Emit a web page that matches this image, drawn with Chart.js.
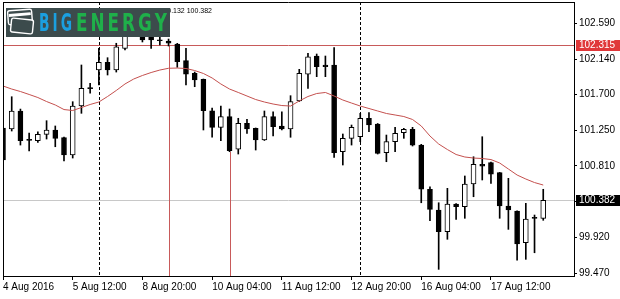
<!DOCTYPE html>
<html>
<head>
<meta charset="utf-8">
<script src="https://cdn.jsdelivr.net/npm/chart.js@4/dist/chart.umd.min.js"></script>
<style>
  html, body { margin: 0; padding: 0; background: #fff; }
  #wrap { width: 620px; height: 299px; position: relative; }
</style>
</head>
<body>
<div id="wrap"><canvas id="chart" width="620" height="299"></canvas></div>
<script>
/* USDJPY H4 candles with moving average */
const opens = [101.284, 101.271, 101.496, 101.134, 101.125, 101.205, 101.259, 101.163, 100.947, 101.558,
  101.779, 102.007, 102.103, 102.007, 102.278, 102.482, 102.423, 102.416, 102.373, 102.369,
  102.332, 102.124, 101.966, 101.891, 101.499, 101.292, 101.425, 101.021, 101.342, 101.280,
  101.134, 101.425, 101.309, 101.271, 101.621, 101.954, 102.182, 102.070, 102.070, 100.988,
  101.155, 101.175, 101.405, 101.333, 100.975, 101.113, 101.225, 101.267, 101.071, 100.519,
  100.260, 99.989, 100.335, 100.301, 100.585, 100.831, 100.851, 100.726, 100.310, 100.248,
  99.852, 100.157, 100.157];
const highs = [101.321, 101.674, 101.520, 101.221, 101.237, 101.375, 101.309, 101.171, 101.612, 102.070,
  101.841, 102.278, 102.161, 102.341, 102.532, 102.581, 102.469, 102.444, 102.423, 102.394,
  102.340, 102.278, 101.982, 101.895, 101.533, 101.558, 101.521, 101.405, 101.392, 101.284,
  101.496, 101.487, 101.487, 101.687, 102.016, 102.216, 102.207, 102.182, 102.286, 101.209,
  101.321, 101.467, 101.475, 101.340, 101.196, 101.292, 101.280, 101.292, 101.080, 100.551,
  100.351, 100.531, 100.340, 100.685, 100.925, 101.175, 100.860, 100.730, 100.656, 100.250,
  100.344, 100.198, 100.519];
const lows = [100.859, 101.246, 101.071, 100.999, 101.105, 101.146, 101.050, 100.872, 100.909, 101.467,
  101.717, 101.820, 101.945, 101.982, 102.257, 102.432, 102.357, 102.278, 102.319, 102.307,
  102.041, 101.820, 101.799, 101.259, 101.168, 101.125, 100.988, 100.959, 101.217, 101.009,
  101.128, 101.184, 101.259, 101.168, 101.615, 101.779, 101.924, 101.924, 100.918, 100.822,
  101.071, 101.113, 101.237, 100.959, 100.863, 100.988, 101.155, 101.059, 100.351, 100.127,
  99.520, 99.895, 100.144, 100.157, 100.426, 100.635, 100.593, 100.157, 100.019, 99.636,
  99.645, 99.727, 100.132];
const closes = [100.884, 101.496, 101.125, 101.130, 101.205, 101.259, 101.155, 100.947, 101.558, 101.779,
  101.775, 102.103, 102.007, 102.298, 102.482, 102.444, 102.382, 102.382, 102.373, 102.341,
  102.111, 101.954, 101.883, 101.499, 101.292, 101.425, 101.000, 101.342, 101.271, 101.134,
  101.425, 101.300, 101.271, 101.612, 101.966, 102.173, 102.049, 102.049, 100.975, 101.155,
  101.292, 101.405, 101.321, 100.968, 101.113, 101.217, 101.267, 101.071, 100.519, 100.269,
  99.989, 100.335, 100.301, 100.585, 100.831, 100.809, 100.709, 100.310, 100.260, 99.836,
  100.148, 100.157, 100.382];
const maValues = [101.808, 101.770, 101.739, 101.702, 101.664, 101.614, 101.571, 101.514, 101.502, 101.539,
  101.577, 101.608, 101.677, 101.752, 101.833, 101.895, 101.939, 101.976, 102.007, 102.029,
  102.032, 102.026, 102.001, 101.964, 101.908, 101.833, 101.770, 101.727, 101.683, 101.639,
  101.608, 101.583, 101.564, 101.558, 101.621, 101.677, 101.714, 101.727, 101.683, 101.633,
  101.595, 101.558, 101.527, 101.496, 101.465, 101.446, 101.427, 101.390, 101.309, 101.184,
  101.084, 101.015, 100.953, 100.922, 100.909, 100.903, 100.890, 100.847, 100.772, 100.697,
  100.647, 100.603, 100.572];

const timeLabels = ['4 Aug 2016', '5 Aug 12:00', '8 Aug 20:00', '10 Aug 04:00',
  '11 Aug 12:00', '12 Aug 20:00', '16 Aug 04:00', '17 Aug 12:00'];
const timeTickIdx = [0, 8, 16, 24, 32, 40, 48, 56];
const priceTicks = [102.590, 102.140, 101.700, 101.250, 100.810, 100.370, 99.920, 99.470];

const levelPrice = 102.315;
const bidPrice = 100.382;
const separatorIdx = [11, 41];
const markerIdx = [19, 26];
const markerTop = [102.315, 100.988];
const caption = 'USDJPY,H4  100.157 100.519 100.132 100.382';

const FONT = '"Liberation Sans", Arial, sans-serif';

function line(ctx, x1, y1, x2, y2) {
  ctx.beginPath(); ctx.moveTo(x1, y1); ctx.lineTo(x2, y2); ctx.stroke();
}

// draws a word letter by letter, squeezed to fit [x0, x0 + wd]
function fitWord(ctx, word, color, x0, wd, gap) {
  const widths = [...word].map(ch => ctx.measureText(ch).width);
  const sx = (wd - gap * (word.length - 1)) / widths.reduce((s, w) => s + w, 0);
  let x = x0;
  ctx.fillStyle = color;
  [...word].forEach((ch, k) => {
    ctx.save();
    ctx.translate(x, 31);
    ctx.scale(sx, 1);
    ctx.fillText(ch, 0, 0);
    ctx.restore();
    x += widths[k] * sx + gap;
  });
}

function drawLogo(ctx) {
  ctx.save();
  ctx.fillStyle = '#3c4b4c';
  ctx.fillRect(6, 8, 164, 29);
  // card icon
  ctx.strokeStyle = '#fff';
  ctx.lineWidth = 1.4;
  ctx.save();
  ctx.translate(20, 17); ctx.rotate(-0.08);
  ctx.fillStyle = '#3c4b4c';
  ctx.beginPath(); ctx.roundRect(-12, -7, 24, 14, 2); ctx.fill(); ctx.stroke();
  ctx.fillStyle = '#fff'; ctx.fillRect(-11, -4, 22, 3);
  ctx.restore();
  ctx.save();
  ctx.translate(22, 26); ctx.rotate(0.1);
  ctx.fillStyle = '#3c4b4c';
  ctx.beginPath(); ctx.roundRect(-11, -7, 22, 14, 2); ctx.fill(); ctx.stroke();
  ctx.restore();
  ctx.font = 'bold 24px "DejaVu Sans", sans-serif';
  ctx.textBaseline = 'alphabetic';
  ctx.textAlign = 'left';
  fitWord(ctx, 'BIG', '#1b9fdf', 39, 33, 3);
  fitWord(ctx, 'ENERGY', '#1fb04a', 76, 91, 3);
  ctx.restore();
}

const overlays = {
  id: 'overlays',
  beforeDatasetsDraw(chart) {
    const { ctx, chartArea: a, scales: { x, y } } = chart;
    ctx.save();
    ctx.lineWidth = 1;
    const yb = Math.round(y.getPixelForValue(bidPrice)) + 0.5;
    ctx.strokeStyle = '#c8c8c8';
    line(ctx, a.left, yb, a.right, yb);
    const yl = Math.round(y.getPixelForValue(levelPrice)) + 0.5;
    ctx.strokeStyle = '#c85a5a';
    line(ctx, a.left, yl, a.right, yl);
    markerIdx.forEach((i, k) => {
      const px = Math.round(x.getPixelForValue(i)) + 0.5;
      line(ctx, px, y.getPixelForValue(markerTop[k]), px, a.bottom);
    });
    ctx.strokeStyle = '#000';
    ctx.setLineDash([3, 2]);
    separatorIdx.forEach(i => {
      const px = Math.round(x.getPixelForValue(i)) + 0.5;
      line(ctx, px, a.top, px, a.bottom);
    });
    ctx.restore();
  },
  afterDraw(chart) {
    const { ctx, chartArea: a, scales: { y } } = chart;
    ctx.save();
    ctx.strokeStyle = '#000';
    ctx.lineWidth = 1;
    line(ctx, a.left + 0.5, a.top, a.left + 0.5, a.bottom);
    line(ctx, a.left, a.top + 0.5, a.right, a.top + 0.5);

    ctx.font = '10px ' + FONT;
    ctx.textBaseline = 'middle';
    ctx.textAlign = 'left';
    [[levelPrice, '#e0383a'], [bidPrice, '#000']].forEach(([p, c]) => {
      const py = Math.round(y.getPixelForValue(p));
      ctx.fillStyle = c;
      ctx.fillRect(a.right + 2, py - 5, 44, 11);
      ctx.fillStyle = '#fff';
      ctx.fillText(p.toFixed(3), a.right + 5, py + 0.5);
    });

    ctx.font = '7px ' + FONT;
    ctx.fillStyle = '#000';
    ctx.textAlign = 'right';
    ctx.textBaseline = 'alphabetic';
    ctx.fillText(caption, 212, 13);

    drawLogo(ctx);
    ctx.restore();
  }
};

const idx = opens.map((_, i) => i);

new Chart(document.getElementById('chart'), {
  data: {
    datasets: [
      {
        type: 'line',
        label: 'MA',
        data: idx.map(i => ({ x: i, y: maValues[i] })),
        borderColor: '#c4504e',
        borderWidth: 1,
        pointRadius: 0,
        tension: 0,
        order: 0
      },
      {
        type: 'bar',
        label: 'bodies',
        data: idx.map(i => ({ x: i, y: [opens[i], closes[i]] })),
        backgroundColor: idx.map(i => closes[i] > opens[i] ? '#fff' : '#000'),
        borderColor: '#000',
        borderWidth: 1,
        borderSkipped: false,
        barThickness: 5,
        minBarLength: 1,
        grouped: false,
        order: 1
      },
      {
        type: 'bar',
        label: 'wicks',
        data: idx.map(i => ({ x: i, y: [lows[i], highs[i]] })),
        backgroundColor: '#000',
        borderWidth: 0,
        barThickness: 1,
        grouped: false,
        order: 2
      }
    ]
  },
  options: {
    responsive: false,
    animation: false,
    devicePixelRatio: 1,
    events: [],
    layout: { padding: { left: 3, top: 2, right: 0, bottom: 0 } },
    plugins: { legend: { display: false }, tooltip: { enabled: false } },
    scales: {
      x: {
        type: 'linear',
        offset: false,
        min: 0,
        max: 65.53,
        afterBuildTicks: s => { s.ticks = timeTickIdx.map(v => ({ value: v })); },
        afterFit: s => { s.height = 23; s.paddingLeft = 0; s.paddingRight = 0; },
        grid: { offset: false, drawOnChartArea: false, drawTicks: true, tickLength: 4, color: '#000' },
        border: { display: true, color: '#000' },
        ticks: {
          align: 'start', maxRotation: 0, autoSkip: false, padding: 1,
          color: '#000', font: { family: FONT, size: 10 },
          callback: (v, i) => timeLabels[i]
        }
      },
      y: {
        type: 'linear',
        position: 'right',
        min: 99.437,
        max: 102.856,
        afterBuildTicks: s => { s.ticks = priceTicks.map(v => ({ value: v })); },
        afterFit: s => { s.width = 46; s.paddingTop = 0; s.paddingBottom = 0; },
        grid: { drawOnChartArea: false, drawTicks: true, tickLength: 3, color: '#000' },
        border: { display: true, color: '#000' },
        ticks: {
          padding: 2, color: '#000', font: { family: FONT, size: 10 },
          callback: v => v.toFixed(3)
        }
      }
    }
  },
  plugins: [overlays]
});
</script>
</body>
</html>
